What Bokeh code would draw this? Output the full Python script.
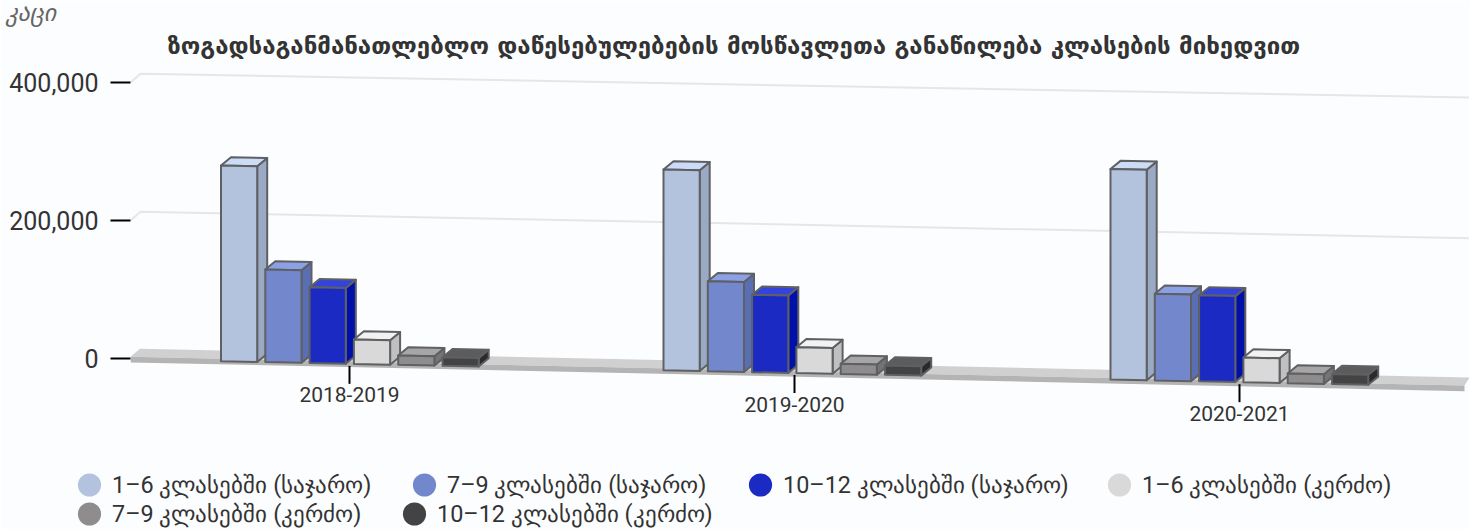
from bokeh.plotting import figure
from bokeh.layouts import column
from bokeh.models import Range1d, FixedTicker, NumeralTickFormatter, Legend, LegendItem, Title
from bokeh.core.properties import value
from bokeh.embed import file_html
from bokeh.resources import INLINE

title_text = "ზოგადსაგანმანათლებლო დაწესებულებების მოსწავლეთა განაწილება კლასების მიხედვით"
unit_label = "კაცი"
categories = ["2018-2019", "2019-2020", "2020-2021"]
series_names = ["1–6 კლასებში (საჯარო)", "7–9 კლასებში (საჯარო)", "10–12 კლასებში (საჯარო)",
                "1–6 კლასებში (კერძო)", "7–9 კლასებში (კერძო)", "10–12 კლასებში (კერძო)"]
public_1_6 = [283600, 291000, 305000]
public_7_9 = [134200, 130400, 125700]
public_10_12 = [109900, 112200, 124600]
private_1_6 = [35400, 37500, 35800]
private_7_9 = [13500, 14800, 14100]
private_10_12 = [12300, 13600, 14500]
series_values = [public_1_6, public_7_9, public_10_12, private_1_6, private_7_9, private_10_12]
y_ticks = [0, 200000, 400000]

front_colors = ["#b4c3dd", "#7388cc", "#1a2ac2", "#d8d9d8", "#8e8c8c", "#434343"]
top_colors = ["#cddcf6", "#8ca1e5", "#3343db", "#f1f2f1", "#a7a5a5", "#5c5c5c"]
side_colors = ["#9baac4", "#5a6fb3", "#0011a9", "#bfc0bf", "#757373", "#2a2a2a"]
BG = "#fcfdff"

# --- layout in pixels of the picture ---
FRAME_L, FRAME_R, FRAME_T, FRAME_B = 130, 1469, 66, 466
PAGE_W, PAGE_H = 1469, 529
PX_PER_CAT = 445.0
CAT0_PX = 349.0
PX_PER_VAL = 0.00069
ZERO_PX = 358.0

x_start = (FRAME_L - CAT0_PX) / PX_PER_CAT
x_end = (FRAME_R - CAT0_PX) / PX_PER_CAT
y_end = (ZERO_PX - FRAME_T) / PX_PER_VAL
y_start = (ZERO_PX - FRAME_B) / PX_PER_VAL

def dx(px):
    return px / PX_PER_CAT

def dy(px):
    """downwards screen pixels as a value difference"""
    return -px / PX_PER_VAL

def cat_px(x):
    return CAT0_PX + x * PX_PER_CAT

BAR_START, BAR_STEP, BAR_W = dx(-128.5), dx(44.3), dx(36.2)
DEPTH_X, DEPTH_Y = dx(10), dy(-8.2)
PERSPECTIVE_SHIFT = [dx(0.0), dx(-2.5), dx(-0.5)]

def base_shift(x):
    """tilt of the 3D floor: how far the bar feet drop, as a value difference"""
    return dy(360.7 - ZERO_PX + 0.0206 * (cat_px(x) - 221))

p = figure(frame_width=FRAME_R - FRAME_L, frame_height=FRAME_B - FRAME_T,
           x_range=Range1d(x_start, x_end), y_range=Range1d(y_start, y_end),
           x_axis_location=None, y_axis_location="left",
           min_border_left=FRAME_L, min_border_right=0, min_border_bottom=0,
           min_border_top=0,
           output_backend="svg", toolbar_location=None,
           background_fill_color=BG, border_fill_color=BG, outline_line_color=None)
p.grid.visible = False

# unit label (outermost title) and chart title (next to the frame)
p.title.text = unit_label
p.title.text_font = "DejaVu Sans"
p.title.text_font_style = "italic"
p.title.text_font_size = "24px"
p.title.text_color = "#666666"
p.title.align = "left"
p.title.offset = -125
p.title.standoff = -8

p.add_layout(Title(text=title_text, align="left", offset=37, standoff=14,
                   text_font="DejaVu Sans", text_font_style="bold", text_font_size="24px",
                   text_color="#333333"), "above")

# y axis
ax = p.yaxis[0]
ax.ticker = FixedTicker(ticks=y_ticks)
ax.formatter = NumeralTickFormatter(format="0,0")
ax.axis_line_color = None
ax.major_tick_line_color = "#000000"
ax.major_tick_line_width = 2
ax.major_tick_in = 0
ax.major_tick_out = 20
ax.minor_tick_line_color = None
ax.major_label_standoff = 12
ax.major_label_text_font = "Roboto"
ax.major_label_text_font_size = "25px"
ax.major_label_text_color = "#333333"

# floor
fx0, fx1, fb0, fb1 = dx(130 - CAT0_PX), dx(1464 - CAT0_PX), dx(139.5 - CAT0_PX), dx(1469 - CAT0_PX)
def floor_front(x):
    return dy(356.3 - ZERO_PX + 0.0216 * (cat_px(x) - 130))
def floor_back(x):
    return dy(348.3 - ZERO_PX + 0.0216 * (cat_px(x) - 139.5))
thick = dy(5.6)
p.patch([fx0, fb0, fb1, fx1], [floor_front(fx0), floor_back(fb0), floor_back(fb1), floor_front(fx1)],
        fill_color="#d0d0d0", line_color=None)
p.patch([fx0, fx1, fx1, fx0],
        [floor_front(fx0), floor_front(fx1), floor_front(fx1) + thick, floor_front(fx0) + thick],
        fill_color="#b4b4b4", line_color=None)

# grid on the walls
grid_xs, grid_ys = [], []
for v in y_ticks[1:]:
    slope = 0.0218 - 0.0095 * v / 1e6
    yb0 = v + dy(-8.8)
    grid_xs.append([dx(130 - CAT0_PX), dx(140 - CAT0_PX), dx(1469 - CAT0_PX)])
    grid_ys.append([v, yb0, yb0 + dy(slope * 1329)])
p.multi_line(grid_xs, grid_ys, line_color="#e6e6e6", line_width=2)

# bars: side, top and front of every box, back to front
xs, ys, colors = [], [], []
for c in range(len(categories)):
    for s, vals in enumerate(series_values):
        x0 = c + BAR_START + s * BAR_STEP + PERSPECTIVE_SHIFT[c]
        x1 = x0 + BAR_W
        b0, b1 = base_shift(x0), base_shift(x1)
        t0, t1 = vals[c] + b0, vals[c] + b1
        xs.append([x1, x1 + DEPTH_X, x1 + DEPTH_X, x1])
        ys.append([b1, b1 + DEPTH_Y, t1 + DEPTH_Y, t1])
        colors.append(side_colors[s])
        xs.append([x0, x0 + DEPTH_X, x1 + DEPTH_X, x1])
        ys.append([t0, t0 + DEPTH_Y, t1 + DEPTH_Y, t1])
        colors.append(top_colors[s])
        xs.append([x0, x1, x1, x0])
        ys.append([b0, b1, t1, t0])
        colors.append(front_colors[s])
p.patches(xs, ys, fill_color=colors, line_color="#5e6063", line_width=2, line_join="round")

# category ticks and labels on the tilted floor
cats = list(range(len(categories)))
p.segment(cats, [base_shift(c) + dy(2) for c in cats], cats, [base_shift(c) + dy(20) for c in cats],
          line_color="#000000", line_width=2)
p.text(cats, [base_shift(c) + dy(31) for c in cats], text=categories, text_align="center",
       text_baseline="middle", text_font=value("Roboto"), text_font_size="21px", text_color="#333333")

# legend strip under the chart: entries flow as in the reference, not in equal columns
lf = figure(frame_width=PAGE_W, frame_height=PAGE_H - FRAME_B,
            x_range=Range1d(0, 1), y_range=Range1d(0, 1),
            x_axis_location=None, y_axis_location=None,
            min_border_left=0, min_border_right=0, min_border_bottom=0, min_border_top=0,
            output_backend="svg", toolbar_location=None,
            background_fill_color=BG, border_fill_color=BG, outline_line_color=None)
lf.grid.visible = False
LEGEND_SPOTS = [(74, 30), (409, 30), (745, 30), (1104, 30), (74, 1), (399, 1)]
for name, col, spot in zip(series_names, front_colors, LEGEND_SPOTS):
    r = lf.ellipse([-1], [-1], width=24, height=24, width_units="screen", height_units="screen",
                   fill_color=col, line_color=None)
    lf.add_layout(Legend(items=[LegendItem(label=name, renderers=[r])], location=spot,
                         border_line_color=None, background_fill_alpha=0,
                         glyph_width=30, glyph_height=29, label_standoff=8, spacing=0,
                         padding=0, margin=0, label_text_font="Roboto", label_text_font_size="23.4px",
                         label_text_color="#333333", label_height=29), "center")

page = column(p, lf, spacing=0)
open("out.html", "w").write(file_html(page, INLINE))
